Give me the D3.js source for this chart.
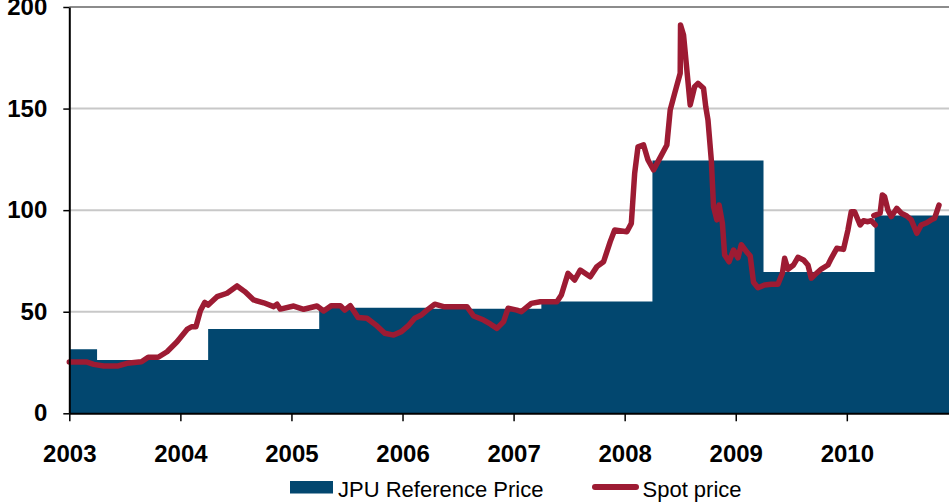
<!DOCTYPE html>
<meta charset="utf-8">
<style>
  body { margin: 0; background: #fff; }
  svg { display: block; font-family: "Liberation Sans", Arial, sans-serif; }
</style>
<div id="chart"></div>
<script src="https://cdn.jsdelivr.net/npm/d3@7"></script>
<script>

// year ticks and y ticks
var yearTicks = [2003, 2004, 2005, 2006, 2007, 2008, 2009, 2010];
var valueTicks = [0, 50, 100, 150, 200];

// JPU reference price: each value holds from its start until the next start
var refStart = [2003.0, 2003.25, 2004.25, 2005.25, 2006.25, 2007.25, 2008.25, 2009.25, 2010.25, 2010.92];
var refPrice = [31.5, 26.2, 41.5, 52.0, 51.5, 55.0, 124.5, 69.5, 97.4, 97.4];

// spot price (null = gap in the line)
var spotYear = [
  2003.00, 2003.16, 2003.22, 2003.31, 2003.44, 2003.52, 2003.65, 2003.71, 2003.80, 2003.88,
  2003.97, 2004.06, 2004.10, 2004.14, 2004.18, 2004.22, 2004.25, 2004.33, 2004.42, 2004.51,
  2004.58, 2004.66, 2004.75, 2004.84, 2004.87, 2004.90, 2005.02, 2005.11, 2005.23, 2005.29,
  2005.36, 2005.44, 2005.48, 2005.53, 2005.60, 2005.68, 2005.77, 2005.84, 2005.92, 2005.99,
  2006.05, 2006.11, 2006.17, 2006.22, 2006.29, 2006.37, 2006.58, 2006.64, 2006.73, 2006.79,
  2006.85, 2006.91, 2006.95, 2007.03, 2007.07, 2007.16, 2007.24, 2007.39, 2007.43, 2007.49,
  2007.55, 2007.60, 2007.69, 2007.75, 2007.81, 2007.87, 2007.91, 2008.02, 2008.06, 2008.09,
  2008.12, 2008.17, 2008.21, 2008.26, 2008.30, 2008.38, 2008.41, 2008.45, 2008.50, 2008.503,
  2008.53, 2008.56, 2008.59, 2008.63, 2008.66, 2008.71, 2008.73, 2008.75, 2008.78, 2008.80,
  2008.83, 2008.85, 2008.88, 2008.90, 2008.94, 2008.98, 2009.02, 2009.05, 2009.10, 2009.13,
  2009.16, 2009.20, 2009.26, 2009.32, 2009.38, 2009.42, 2009.44, 2009.47, 2009.52, 2009.56,
  2009.61, 2009.65, 2009.68, 2009.71, 2009.77, 2009.83, 2009.86, 2009.91, 2009.97, 2010.01,
  2010.04, 2010.07, 2010.12, 2010.15, 2010.19, 2010.22, 2010.256,
  null,
  2010.243, 2010.30, 2010.32, 2010.34, 2010.37, 2010.40, 2010.45, 2010.49, 2010.54, 2010.58,
  2010.63, 2010.67, 2010.72, 2010.76, 2010.79, 2010.83
];
var spotPrice = [
  25.2, 25.2, 24.1, 23.3, 23.3, 24.6, 25.4, 27.6, 27.6, 30.3,
  35.2, 41.3, 42.6, 42.6, 50.5, 54.6, 53.3, 57.4, 59.1, 62.7,
  59.9, 55.8, 54.4, 52.5, 53.7, 51.3, 52.8, 51.2, 52.8, 50.4,
  53.0, 53.0, 50.8, 53.0, 47.1, 46.8, 43.0, 39.4, 38.5, 40.2,
  43.0, 46.8, 48.4, 50.8, 53.7, 52.5, 52.5, 47.9, 45.9, 44.0,
  41.8, 45.1, 51.7, 50.8, 50.0, 54.1, 54.9, 54.9, 58.2, 68.9,
  65.6, 70.5, 67.2, 72.2, 74.6, 84.5, 90.2, 89.4, 93.5, 118.1,
  131.2, 132.1, 124.7, 119.8, 123.9, 132.1, 149.3, 157.5, 167.4, 191.1,
  186.2, 169.0, 151.8, 160.8, 162.4, 160.0, 150.9, 144.4, 124.7, 101.7,
  95.2, 102.5, 93.5, 77.9, 74.6, 80.4, 76.5, 83.0, 79.3, 77.5,
  64.5, 61.8, 63.2, 63.5, 63.5, 68.9, 76.3, 70.9, 73.0, 76.8,
  75.5, 73.0, 66.5, 68.1, 71.0, 73.0, 76.3, 81.2, 80.7, 90.2,
  99.2, 99.2, 92.7, 94.8, 94.3, 94.8, 92.7,
  null,
  97.3, 98.5, 107.5, 106.6, 100.1, 96.8, 100.9, 98.5, 97.1, 95.2,
  88.6, 92.7, 93.8, 95.2, 96.0, 102.5
];

var width = 949, height = 503;

var svg = d3.select("#chart")
  .append("svg")
    .attr("width", width)
    .attr("height", height)

var x = d3.scaleLinear()
  .domain([2003, 2010.92])
  .range([69.3, 949])

var y = d3.scaleLinear()
  .domain([0, 200])
  .range([413.3, 7])

// gridlines
svg.append("g")
  .selectAll("line")
  .data(valueTicks.filter(function(d) { return d > 0; }))
  .enter()
  .append("line")
    .attr("x1", x(2003))
    .attr("x2", width)
    .attr("y1", function(d) { return y(d); })
    .attr("y2", function(d) { return y(d); })
    .attr("stroke", function(d) { return d == 200 ? "#8c8c8c" : "#c8c8c8"; })
    .attr("stroke-width", 2)

// reference price as a step area
var refData = refStart.map(function(d, i) { return { year: d, price: refPrice[i] }; });

svg.append("path")
  .datum(refData)
  .attr("fill", "#02476f")
  .attr("d", d3.area()
    .curve(d3.curveStepAfter)
    .x(function(d) { return x(d.year); })
    .y0(y(0))
    .y1(function(d) { return y(d.price); }))

// spot price line
var spotData = spotYear.map(function(d, i) { return { year: d, price: spotPrice[i] }; });

svg.append("path")
  .datum(spotData)
  .attr("fill", "none")
  .attr("stroke", "#9d1b33")
  .attr("stroke-width", 5.5)
  .attr("stroke-linejoin", "round")
  .attr("stroke-linecap", "round")
  .attr("d", d3.line()
    .defined(function(d) { return d.year != null; })
    .x(function(d) { return x(d.year); })
    .y(function(d) { return y(d.price); }))

// axes
var xAxis = svg.append("g")
  .attr("transform", "translate(0," + y(0) + ")")
  .call(d3.axisBottom(x)
    .tickValues(yearTicks)
    .tickFormat(d3.format("d"))
    .tickSize(8)
    .tickSizeOuter(0)
    .tickPadding(24))

var yAxis = svg.append("g")
  .attr("transform", "translate(" + x(2003) + ",0)")
  .call(d3.axisLeft(y)
    .tickValues(valueTicks)
    .tickSize(6)
    .tickSizeOuter(0)
    .tickPadding(16))

svg.selectAll(".domain").attr("stroke", "#000").attr("stroke-width", 2)
svg.selectAll(".tick line").attr("stroke", "#000").attr("stroke-width", 1.5)
svg.selectAll(".tick text")
  .attr("fill", "#000")
  .style("font-size", "24px")
  .style("font-weight", "bold")
  .style("font-family", "'Liberation Sans', Arial, sans-serif")

// legend
var legend = svg.append("g")

legend.append("rect")
  .attr("x", 290)
  .attr("y", 481)
  .attr("width", 43)
  .attr("height", 12.5)
  .attr("fill", "#02476f")

legend.append("text")
  .attr("x", 338)
  .attr("y", 497)
  .style("font-size", "22px")
  .text("JPU Reference Price")

legend.append("line")
  .attr("x1", 595)
  .attr("x2", 636)
  .attr("y1", 487)
  .attr("y2", 487)
  .attr("stroke", "#9d1b33")
  .attr("stroke-width", 6)
  .attr("stroke-linecap", "round")

legend.append("text")
  .attr("x", 642.5)
  .attr("y", 497)
  .style("font-size", "22px")
  .text("Spot price")

</script>
